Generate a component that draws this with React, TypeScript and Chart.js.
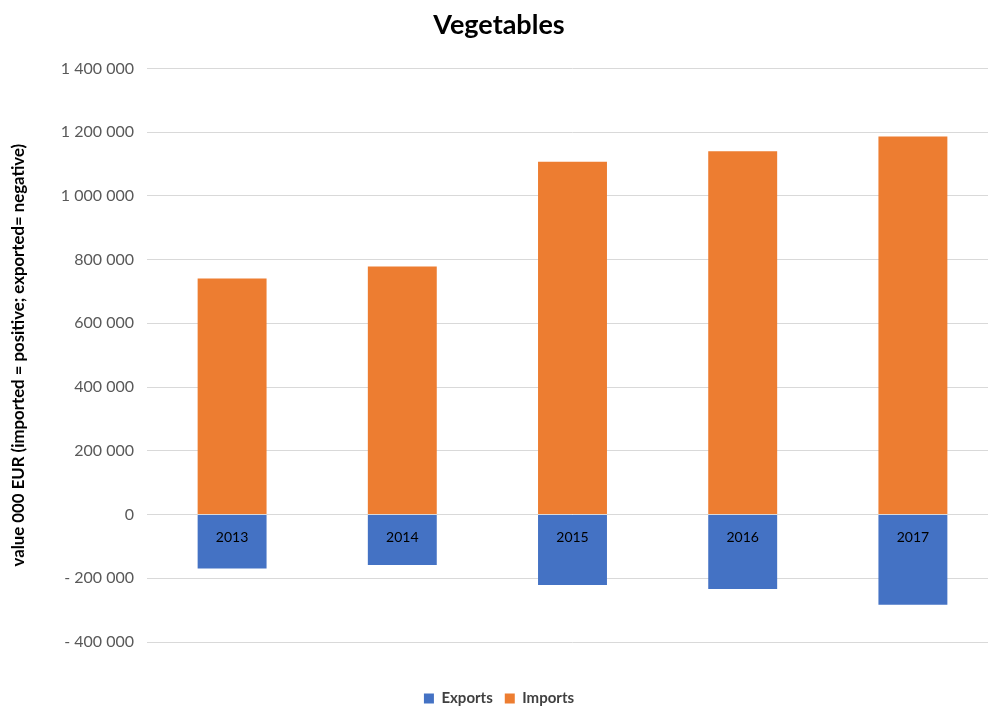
import React, { useEffect, useRef } from "react";
import { Chart, registerables } from "chart.js";

Chart.register(...registerables);

const years = ["2013", "2014", "2015", "2016", "2017"];
const exportsValues = [-169000, -158000, -221000, -234000, -283000];
const importsValues = [741000, 778000, 1107000, 1140000, 1186000];
const yMin = -400000;
const yMax = 1400000;
const yStep = 200000;

const FONT = "Lato, 'Open Sans', sans-serif";

function fmt(v: number): string {
  if (v === 0) return "0";
  const s = Math.abs(v)
    .toString()
    .replace(/\B(?=(\d{3})+(?!\d))/g, " ");
  return v < 0 ? "- " + s : s;
}

export default function App() {
  const ref = useRef<HTMLCanvasElement | null>(null);

  useEffect(() => {
    if (!ref.current) return;
    const chart = new Chart(ref.current, {
      type: "bar",
      data: {
        labels: years,
        datasets: [
          {
            label: "Exports",
            data: exportsValues,
            backgroundColor: "#4472C4",
            borderWidth: 0,
            categoryPercentage: 1,
            barPercentage: 0.405,
            xAxisID: "x",
          },
          {
            label: "Imports",
            data: importsValues,
            backgroundColor: "#ED7D31",
            borderWidth: 0,
            categoryPercentage: 1,
            barPercentage: 0.405,
            xAxisID: "x",
          },
        ],
      },
      options: {
        animation: false,
        responsive: false,
        maintainAspectRatio: false,
        layout: { padding: { left: 0, right: 2, top: 0, bottom: 0 } },
        plugins: {
          title: {
            display: true,
            text: "Vegetables",
            color: "#000000",
            font: { family: FONT, size: 27, weight: "bold" },
            padding: { top: 9, bottom: 27 },
          },
          legend: {
            position: "bottom",
            labels: {
              boxWidth: 10,
              boxHeight: 10,
              padding: 12,
              color: "#404040",
              font: { family: FONT, size: 15, weight: "bold" },
            },
          },
          tooltip: { enabled: false },
        },
        scales: {
          x: {
            type: "category",
            stacked: true,
            position: { y: 0 } as any,
            grid: { display: false },
            border: { display: false },
            ticks: {
              z: 1,
              color: "#000000",
              padding: 7,
              font: { family: FONT, size: 14 },
              maxRotation: 0,
            },
          },
          x2: {
            type: "category",
            position: "bottom",
            grid: { display: false },
            border: { display: false },
            ticks: { display: false },
            afterFit: (s: any) => {
              s.height = 37;
            },
          },
          y: {
            stacked: true,
            min: yMin,
            max: yMax,
            grid: { color: "#D9D9D9", lineWidth: 1, drawTicks: false },
            border: { display: false },
            ticks: {
              stepSize: yStep,
              padding: 13,
              color: "#595959",
              font: { family: FONT, size: 16 },
              callback: (v: any) => fmt(Number(v)),
            },
            title: {
              display: true,
              text: "value 000 EUR (imported = positive; exported= negative)",
              color: "#000000",
              font: { family: FONT, size: 16.8, weight: "bold" },
              padding: { top: 9, bottom: 0 },
            },
            afterFit: (s: any) => {
              s.width = 147;
            },
          },
        },
      },
    });
    return () => chart.destroy();
  }, []);

  return (
    <div
      style={{
        position: "fixed",
        left: 0,
        top: 0,
        width: 988,
        height: 707,
        overflow: "hidden",
        background: "#ffffff",
      }}
    >
      <canvas ref={ref} width={1000} height={716} style={{ display: "block", width: 1000, height: 716 }} />
    </div>
  );
}
